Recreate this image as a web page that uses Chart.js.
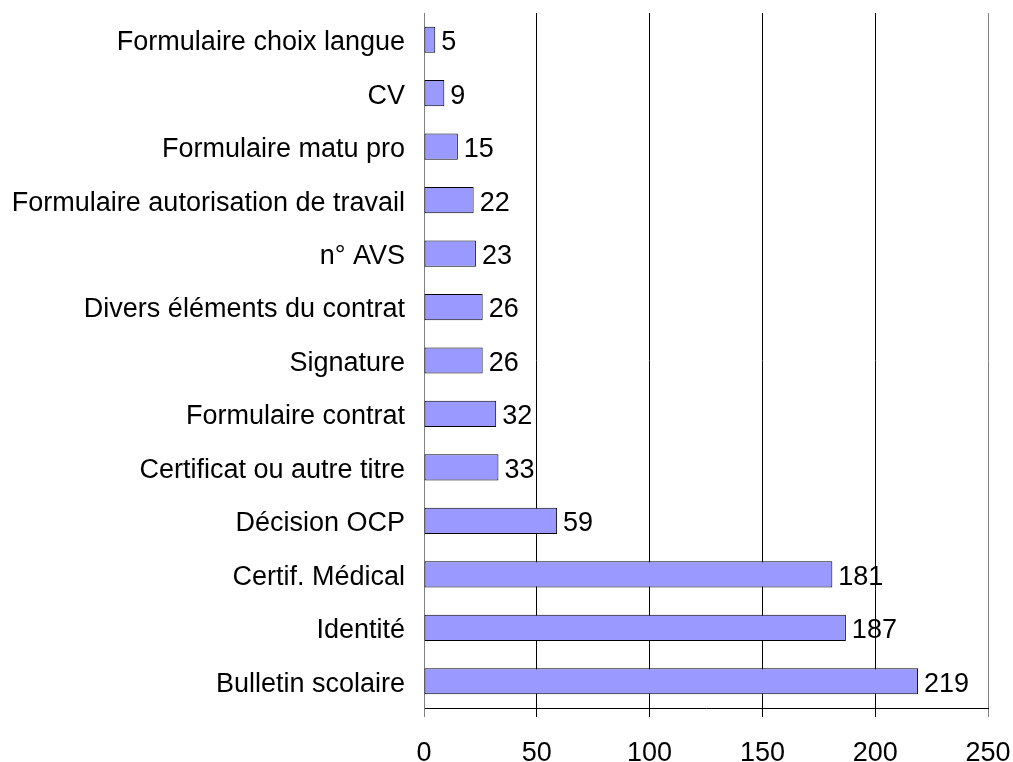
<!DOCTYPE html>
<html>
<head>
<meta charset="utf-8">
<script src="https://cdn.jsdelivr.net/npm/chart.js@4/dist/chart.umd.min.js"></script>
<style>
  html, body { margin: 0; padding: 0; background: #fff; }
  #wrap { width: 1013px; height: 762px; }
</style>
</head>
<body>
<div id="wrap"><canvas id="docChart"></canvas></div>
<script>
// Données
const categories = [
    "Formulaire choix langue",
    "CV",
    "Formulaire matu pro",
    "Formulaire autorisation de travail",
    "n° AVS",
    "Divers éléments du contrat",
    "Signature",
    "Formulaire contrat",
    "Certificat ou autre titre",
    "Décision OCP",
    "Certif. Médical",
    "Identité",
    "Bulletin scolaire"
];
const counts = [5, 9, 15, 22, 23, 26, 26, 32, 33, 59, 181, 187, 219];
const xTicks = [0, 50, 100, 150, 200, 250];

const FONT = "'Liberation Sans', Arial, sans-serif";
const FONT_SIZE = 27;

// Étiquettes de valeur à droite des barres
const valueLabels = {
    id: "valueLabels",
    afterDatasetsDraw(chart) {
        const ctx = chart.ctx;
        const meta = chart.getDatasetMeta(0);
        ctx.save();
        ctx.font = FONT_SIZE + "px " + FONT;
        ctx.fillStyle = "#000";
        ctx.textAlign = "left";
        ctx.textBaseline = "middle";
        meta.data.forEach((bar, i) => {
            ctx.fillText(String(counts[i]), bar.x + 6, bar.y + 3);
        });
        ctx.restore();
    }
};

const ctx = document.getElementById("docChart").getContext("2d");
const chart = new Chart(ctx, {
    type: "bar",
    data: {
        labels: categories,
        datasets: [{
            data: counts,
            backgroundColor: "#9999FF",
            borderColor: "#000",
            borderWidth: 1,
            borderSkipped: false,
            categoryPercentage: 1,
            barPercentage: 0.49
        }]
    },
    options: {
        indexAxis: "y",
        responsive: true,
        maintainAspectRatio: false,
        animation: false,
        layout: { padding: { top: 13, right: 25, left: 0, bottom: 0 } },
        plugins: {
            legend: { display: false },
            tooltip: { enabled: false }
        },
        scales: {
            x: {
                min: 0,
                max: 250,
                afterBuildTicks: scale => { scale.ticks = xTicks.map(v => ({ value: v })); },
                afterFit: scale => {
                    scale.height = 54;
                    scale.paddingLeft = 0;
                    scale.paddingRight = 0;
                },
                grid: {
                    color: c => (c.tick && (c.tick.value === 0 || c.tick.value === 250)) ? "#808080" : "#000",
                    lineWidth: 1,
                    tickLength: 9,
                    drawOnChartArea: true
                },
                border: { display: true, color: "#000", width: 1 },
                ticks: {
                    color: "#000",
                    padding: 20,
                    maxRotation: 0,
                    font: { family: FONT, size: FONT_SIZE }
                }
            },
            y: {
                afterFit: scale => {
                    scale.width = 424;
                    scale.paddingTop = 0;
                    scale.paddingBottom = 0;
                },
                grid: { display: false, drawTicks: false },
                border: { display: true, color: "#808080", width: 1 },
                ticks: {
                    color: "#000",
                    padding: 19,
                    labelOffset: 3,
                    font: { family: FONT, size: FONT_SIZE }
                }
            }
        }
    },
    plugins: [valueLabels]
});
</script>
</body>
</html>
